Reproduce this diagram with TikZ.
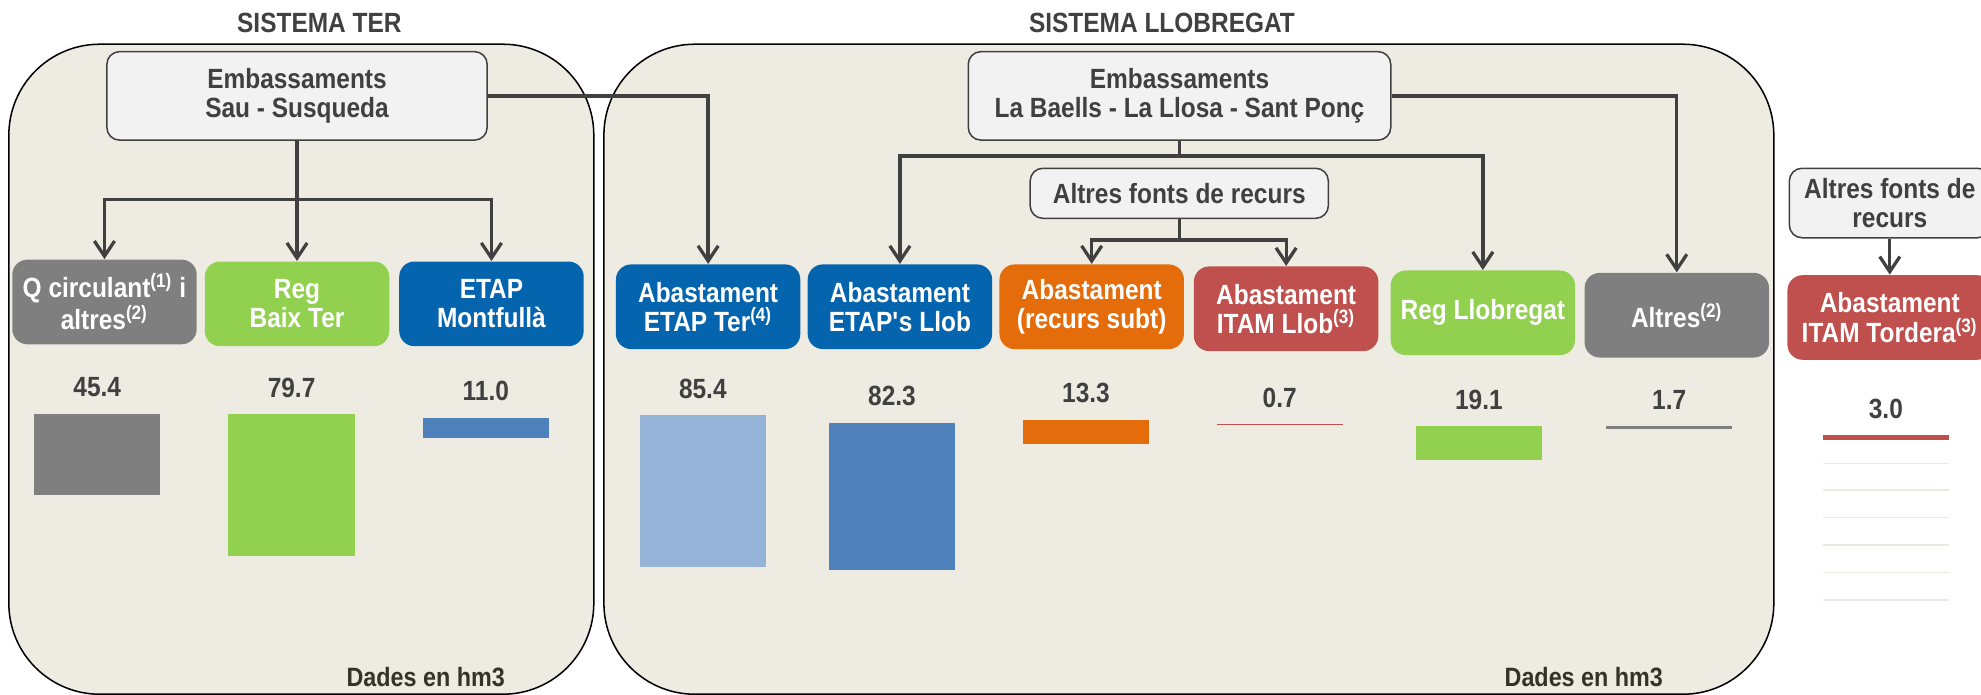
\documentclass[tikz,border=0pt]{standalone}
\usepackage{fontspec}
\setmainfont{Liberation Sans}[FakeStretch=0.88]
\usetikzlibrary{arrows.meta}
\definecolor{ink}{RGB}{64,64,64}
\definecolor{panel}{RGB}{238,236,226}
\definecolor{srcfill}{RGB}{242,242,242}
\definecolor{cgray}{RGB}{127,127,127}
\definecolor{cgreen}{RGB}{146,208,80}
\definecolor{cblue}{RGB}{5,100,174}
\definecolor{corange}{RGB}{228,108,10}
\definecolor{cred}{RGB}{192,80,77}
\definecolor{bblue}{RGB}{79,129,189}
\definecolor{bsky}{RGB}{149,179,215}
\definecolor{gridc}{RGB}{236,233,222}
\definecolor{notec}{RGB}{51,51,41}
% bar hanging from its top, height from the value (hm3)
\newcommand{\hmbar}[5]{%
  \fill[#4] (#1-50,#2) rectangle (#1+50,#2+#3*1.41);
  \node[val] (#5) at (#1,#2-21) {#3};}

\begin{document}
\begin{tikzpicture}[x=0.5pt,y=-0.5pt,>={Straight Barb[length=6pt,width=8pt]},
  every node/.style={font=\fontsize{11}{11.6}\selectfont\bfseries},
  src/.style={draw=ink,fill=srcfill,line width=0.6pt,rounded corners=5pt,
              align=center,text=ink,inner sep=2pt},
  dst/.style={rounded corners=6pt,align=center,text=white,
              minimum width=73pt,minimum height=33.5pt,inner sep=2pt},
  val/.style={text=ink},
  note/.style={text=notec,font=\fontsize{10.5}{12}\selectfont\bfseries},
  wire/.style={ink,line width=1.3pt},
  sys/.style={draw=black,fill=panel,line width=0.6pt,rounded corners=36pt}]
  \useasboundingbox (0,0) rectangle (1568,550);

  % the two systems
  \draw[sys] (7,35) rectangle (470,549.5);
  \draw[sys] (478,35) rectangle (1404,549.5);
  \node[text=ink] (tter) at (252.8,18.5) {SISTEMA TER};
  \node[text=ink] (tllob) at (919.7,18.5) {SISTEMA LLOBREGAT};

  % sources
  \node[src,minimum width=150.5pt,minimum height=35pt] (sau) at (235.1,75.9)
       {Embassaments\\Sau - Susqueda};
  \node[src,minimum width=167.2pt,minimum height=35pt] (baells) at (933.6,75.9)
       {Embassaments\\La Baells - La Llosa - Sant Ponç};
  \node[src,minimum width=118pt,minimum height=19.8pt] (altf) at (933.4,153)
       {Altres fonts de recurs};
  \node[src,minimum width=79.5pt,minimum height=27.5pt] (altft) at (1495.8,160.7)
       {Altres fonts de\\recurs};

  % uses
  \node[dst,fill=cgray] (qc) at (82.7,239) {Q circulant\textsuperscript{(1)} i\\altres\textsuperscript{(2)}};
  \node[dst,fill=cgreen] (rbt) at (235.1,240.5) {Reg\\Baix Ter};
  \node[dst,fill=cblue] (etm) at (389,240.5) {ETAP\\Montfullà};
  \node[dst,fill=cblue] (eter) at (560.5,242.8) {Abastament\\ETAP Ter\textsuperscript{(4)}};
  \node[dst,fill=cblue] (ellob) at (712.3,242.8) {Abastament\\ETAP\textquotesingle s Llob};
  \node[dst,fill=corange] (subt) at (864.1,242.8) {Abastament\\(recurs subt)};
  \node[dst,fill=cred] (itam) at (1018,244.4) {Abastament\\ITAM Llob\textsuperscript{(3)}};
  \node[dst,fill=cgreen] (rll) at (1173.7,247.6) {Reg Llobregat};
  \node[dst,fill=cgray] (alt) at (1327.2,249.5) {Altres\textsuperscript{(2)}};
  \node[dst,fill=cred,minimum width=81pt] (tord) at (1495.8,251.3)
       {Abastament\\ITAM Tordera\textsuperscript{(3)}};

  % flows
  \coordinate (tbus) at (235.1,158);
  \draw[wire] (sau) -- (tbus);
  \draw[wire,->] (tbus) -| (qc);
  \draw[wire,->] (tbus) -- (rbt);
  \draw[wire,->] (tbus) -| (etm);
  \draw[wire,->] (sau.east) -| (eter);
  \coordinate (lbus) at (933.6,123.5);
  \draw[wire] (baells) -- (lbus);
  \draw[wire,->] (lbus) -| (ellob);
  \draw[wire,->] (lbus) -| (rll);
  \draw[wire,->] (baells.east) -| (alt);
  \coordinate (fbus) at (933.4,190);
  \draw[wire] (altf) -- (fbus);
  \draw[wire,->] (fbus) -| (subt);
  \draw[wire,->] (fbus) -| (itam);
  \draw[wire,->] (altft) -- (tord);

  % volumes
  \hmbar{77}{327.7}{45.4}{cgray}{v1}
  \hmbar{230.8}{327.7}{79.7}{cgreen}{v2}
  \hmbar{384.5}{330.8}{11.0}{bblue}{v3}
  \hmbar{556.3}{328.5}{85.4}{bsky}{v4}
  \hmbar{706}{334.8}{82.3}{bblue}{v5}
  \hmbar{859.6}{332.4}{13.3}{corange}{v6}
  \hmbar{1012.9}{335.6}{0.7}{cred}{v7}
  \hmbar{1170.6}{337.2}{19.1}{cgreen}{v8}
  \hmbar{1321.2}{337.2}{1.7}{cgray}{v9}
  \hmbar{1492.7}{344.3}{3.0}{cred}{v10}
  \foreach \g in {366.7,388,409.6,431.3,453,474.9}
    \draw[gridc,line width=0.6pt] (1442.8,\g) -- (1542.5,\g);

  \node[note] (dter) at (337,535.6) {Dades en hm3};
  \node[note] (dllob) at (1253.6,535.5) {Dades en hm3};
\end{tikzpicture}
\end{document}
